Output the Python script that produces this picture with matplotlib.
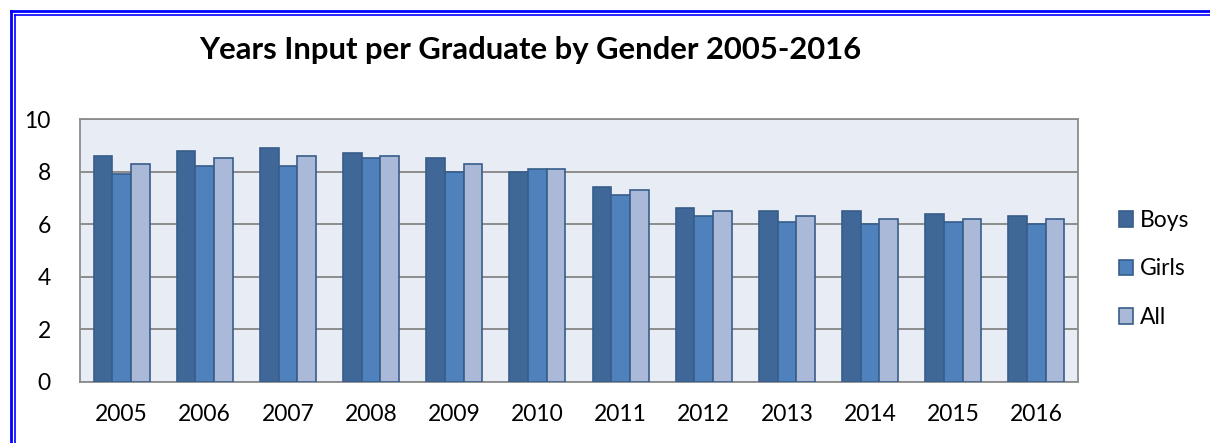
import numpy as np
import matplotlib.pyplot as plt
from matplotlib.lines import Line2D

years = ['2005', '2006', '2007', '2008', '2009', '2010',
         '2011', '2012', '2013', '2014', '2015', '2016']
boys = [8.6, 8.8, 8.9, 8.7, 8.5, 8.0, 7.4, 6.6, 6.5, 6.5, 6.4, 6.3]
girls = [7.9, 8.2, 8.2, 8.5, 8.0, 8.1, 7.1, 6.3, 6.1, 6.0, 6.1, 6.0]
all_grads = [8.3, 8.5, 8.6, 8.6, 8.3, 8.1, 7.3, 6.5, 6.3, 6.2, 6.2, 6.2]

series = [('Boys', boys, '#3F6899'),
          ('Girls', girls, '#4F81BD'),
          ('All', all_grads, '#AAB9D7')]

plt.rcParams['font.family'] = ['Lato', 'DejaVu Sans']

W, H = 1210, 443
fig = plt.figure(figsize=(W / 100, H / 100), dpi=100)

ax = fig.add_axes([80 / W, 1 - 382 / H, (1078 - 80) / W, (382 - 119) / H])
ax.set_facecolor('#E8ECF4')

x = np.arange(len(years))
bw = 0.225
for i, (name, vals, col) in enumerate(series):
    ax.bar(x + (i - 1) * bw, vals, bw, color=col, edgecolor='#385D8A',
           linewidth=1.2, label=name, zorder=3)

ax.set_ylim(0, 10)
ax.set_xlim(-0.5, len(years) - 0.5)
ax.set_yticks(range(0, 11, 2))
ax.set_xticks(x)
ax.set_xticklabels(years)
ax.tick_params(axis='both', length=0, labelsize=16.5, colors='black')
ax.tick_params(axis='y', pad=21)
ax.tick_params(axis='x', pad=16)
ax.grid(axis='y', color='#868686', linewidth=1.3, zorder=1)
for s in ax.spines.values():
    s.set_color('#8C8C8C')
    s.set_linewidth(1.3)

ax.legend(loc='center left', bbox_to_anchor=(1.02, 0.43), frameon=False,
          fontsize=16.5, handlelength=0.65, handleheight=0.65,
          handletextpad=0.3, labelspacing=1.2)

fig.text(530 / W, 1 - 50 / H, 'Years Input per Graduate by Gender 2005-2016',
         ha='center', va='center', fontsize=22.3, fontweight='bold')

# double blue frame
for off, lw in [(11, 2.0), (15, 1.2)]:
    fig.add_artist(Line2D([off / W, 1], [1 - off / H, 1 - off / H],
                          transform=fig.transFigure, color='#0000FF', lw=lw))
    fig.add_artist(Line2D([off / W, off / W], [0, 1 - off / H],
                          transform=fig.transFigure, color='#0000FF', lw=lw))

fig.savefig('out.png', dpi=100)
